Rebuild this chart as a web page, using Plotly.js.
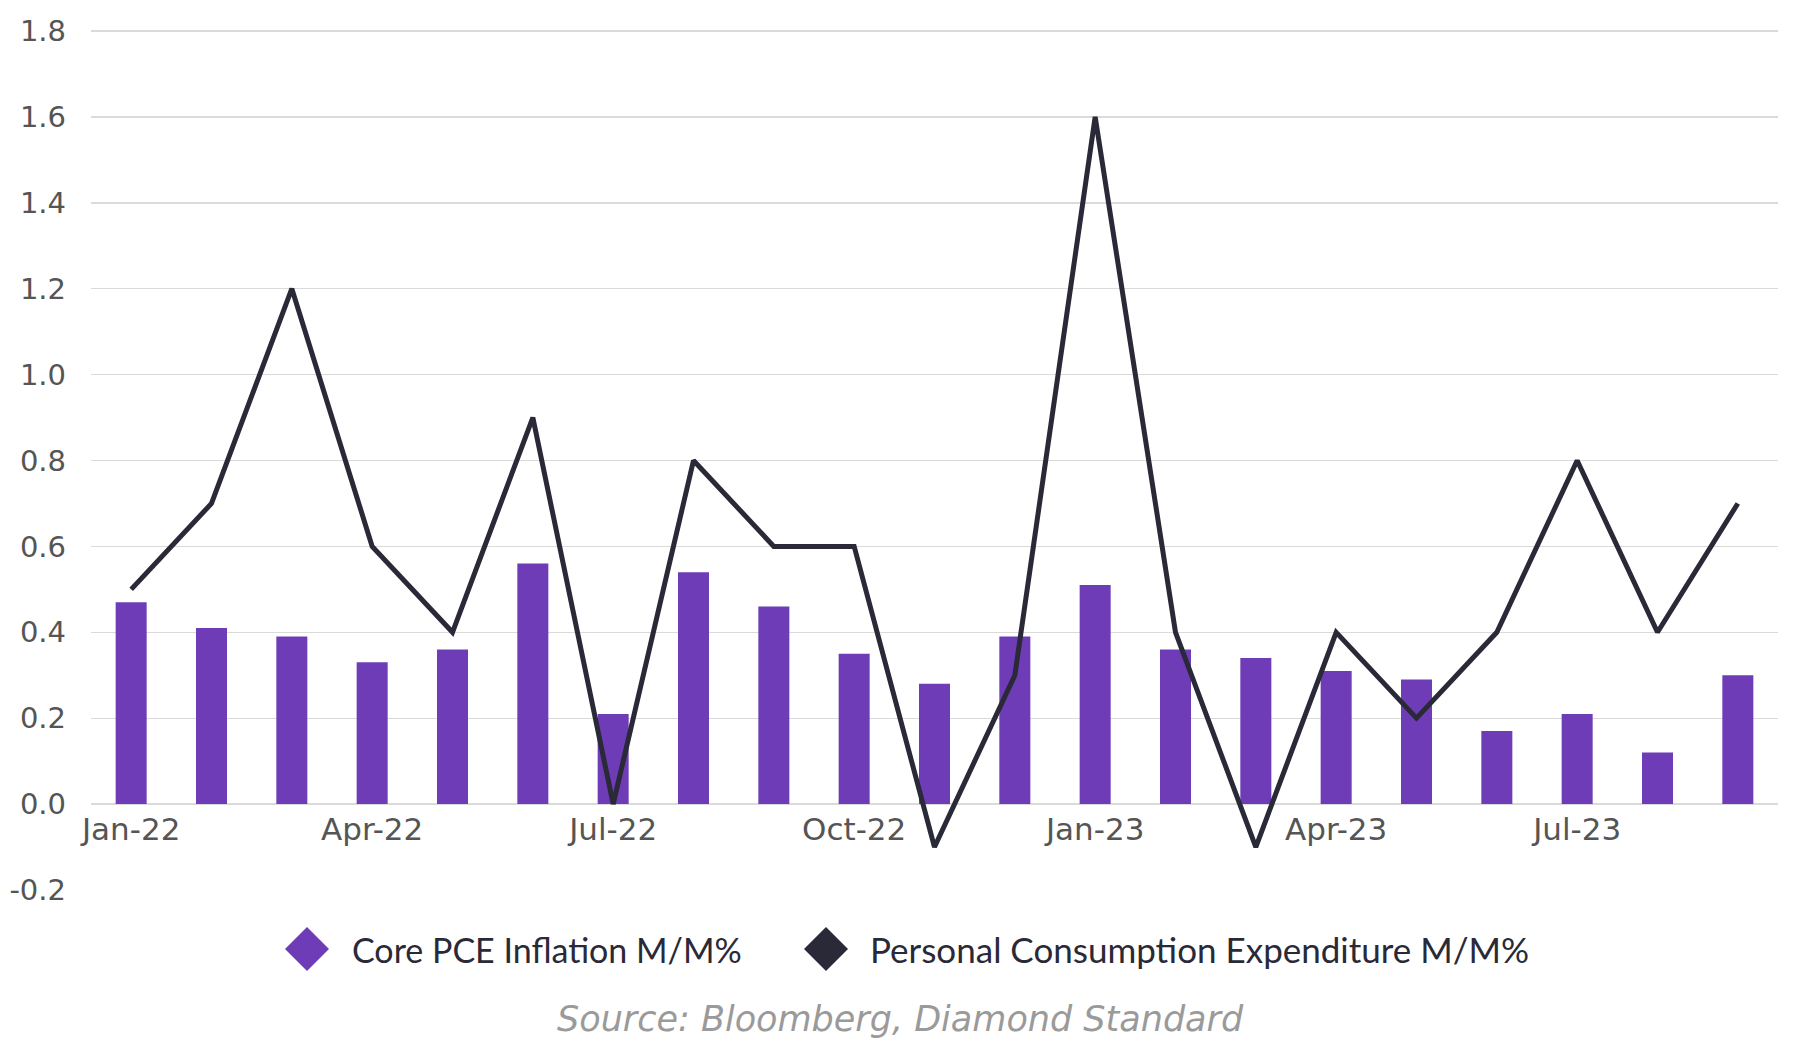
<!DOCTYPE html>
<html>
<head>
<meta charset="utf-8">
<script src="https://cdn.plot.ly/plotly-3.0.1.min.js"></script>
<style>html,body{margin:0;padding:0;background:#fff;}#chart{width:1800px;height:1040px;}</style>
</head>
<body>
<div id="chart"></div>
<script>
const months = ["Jan-22","Feb-22","Mar-22","Apr-22","May-22","Jun-22","Jul-22","Aug-22","Sep-22","Oct-22","Nov-22","Dec-22",
                "Jan-23","Feb-23","Mar-23","Apr-23","May-23","Jun-23","Jul-23","Aug-23","Sep-23"];
const corePce = [0.47,0.41,0.39,0.33,0.36,0.56,0.21,0.54,0.46,0.35,0.28,0.39,0.51,0.36,0.34,0.31,0.29,0.17,0.21,0.12,0.30];
const pce = [0.5,0.7,1.2,0.6,0.4,0.9,0.0,0.8,0.6,0.6,-0.1,0.3,1.6,0.4,-0.1,0.4,0.2,0.4,0.8,0.4,0.7];
const xTickVals = ["Jan-22","Apr-22","Jul-22","Oct-22","Jan-23","Apr-23","Jul-23"];
const yTickVals = [-0.2,0,0.2,0.4,0.6,0.8,1.0,1.2,1.4,1.6,1.8];
const yTickText = ["-0.2","0.0","0.2","0.4","0.6","0.8","1.0","1.2","1.4","1.6","1.8"];
const seriesNames = ["Core PCE Inflation M/M%","Personal Consumption Expenditure M/M%"];
const sourceText = "Source: Bloomberg, Diamond Standard";

const purple = "#6f3cb8";
const dark = "#2a2937";
const W = 1800, H = 1040;
// y = 1.8 at 31px, y = -0.2 at 890px; range padded slightly on top
const M = {l: 91, r: 22, t: 22, b: 150};
const pw = W - M.l - M.r, ph = H - M.t - M.b;
const px = x => (x - M.l) / pw;
const py = y => (H - M.b - y) / ph;

function diamond(cx, cy, hw, hh, color) {
  return {
    type: "path", xref: "paper", yref: "paper",
    path: `M ${px(cx - hw)},${py(cy)} L ${px(cx)},${py(cy - hh)} L ${px(cx + hw)},${py(cy)} L ${px(cx)},${py(cy + hh)} Z`,
    fillcolor: color, line: {width: 0}
  };
}

const traces = [
  {type: "bar", x: months, y: corePce, name: seriesNames[0], marker: {color: purple}, showlegend: false},
  {type: "scatter", mode: "lines", x: months, y: pce, name: seriesNames[1], line: {color: dark, width: 5}, showlegend: false}
];

const yTop = 1.8 + 9 / 429.5;
const layout = {
  width: W, height: H,
  margin: M,
  paper_bgcolor: "#fff", plot_bgcolor: "#fff",
  font: {family: "Lato, 'Noto Sans', sans-serif", color: "#555"},
  bargap: 0.614,
  xaxis: {
    type: "category", categoryorder: "array", categoryarray: months,
    range: [-0.5, 20.5], tickmode: "array", tickvals: xTickVals,
    showgrid: false, showline: false, zeroline: false, ticks: "",
    anchor: "free", position: (890 - 804) / ph,
    tickfont: {family: "'DejaVu Sans', sans-serif", size: 31, color: "#555"}, ticklabelstandoff: 4
  },
  yaxis: {
    range: [-0.2, yTop], tickmode: "array", tickvals: yTickVals, ticktext: yTickText,
    showgrid: true, gridcolor: "#dadada", gridwidth: 1.4,
    zeroline: true, zerolinecolor: "#dadada", zerolinewidth: 1.4,
    showline: false, ticks: "",
    tickfont: {family: "'DejaVu Sans', sans-serif", size: 29, color: "#555"}, ticklabelstandoff: 24
  },
  shapes: [
    diamond(307, 949, 22, 22, purple),
    diamond(826, 949, 22, 22, dark)
  ],
  annotations: [
    {xref: "paper", yref: "paper", x: px(350), y: py(949), xanchor: "left", yanchor: "middle",
     text: seriesNames[0], showarrow: false, font: {size: 34, color: dark}},
    {xref: "paper", yref: "paper", x: px(868), y: py(949), xanchor: "left", yanchor: "middle",
     text: seriesNames[1], showarrow: false, font: {size: 35, color: dark}},
    {xref: "paper", yref: "paper", x: px(900), y: py(1019), xanchor: "center", yanchor: "middle",
     text: sourceText, showarrow: false,
     font: {family: "'DejaVu Sans', sans-serif", size: 35, color: "#9a9a9a", style: "italic", weight: 200}}
  ]
};

Plotly.newPlot("chart", traces, layout, {displayModeBar: false, staticPlot: true});
</script>
</body>
</html>
